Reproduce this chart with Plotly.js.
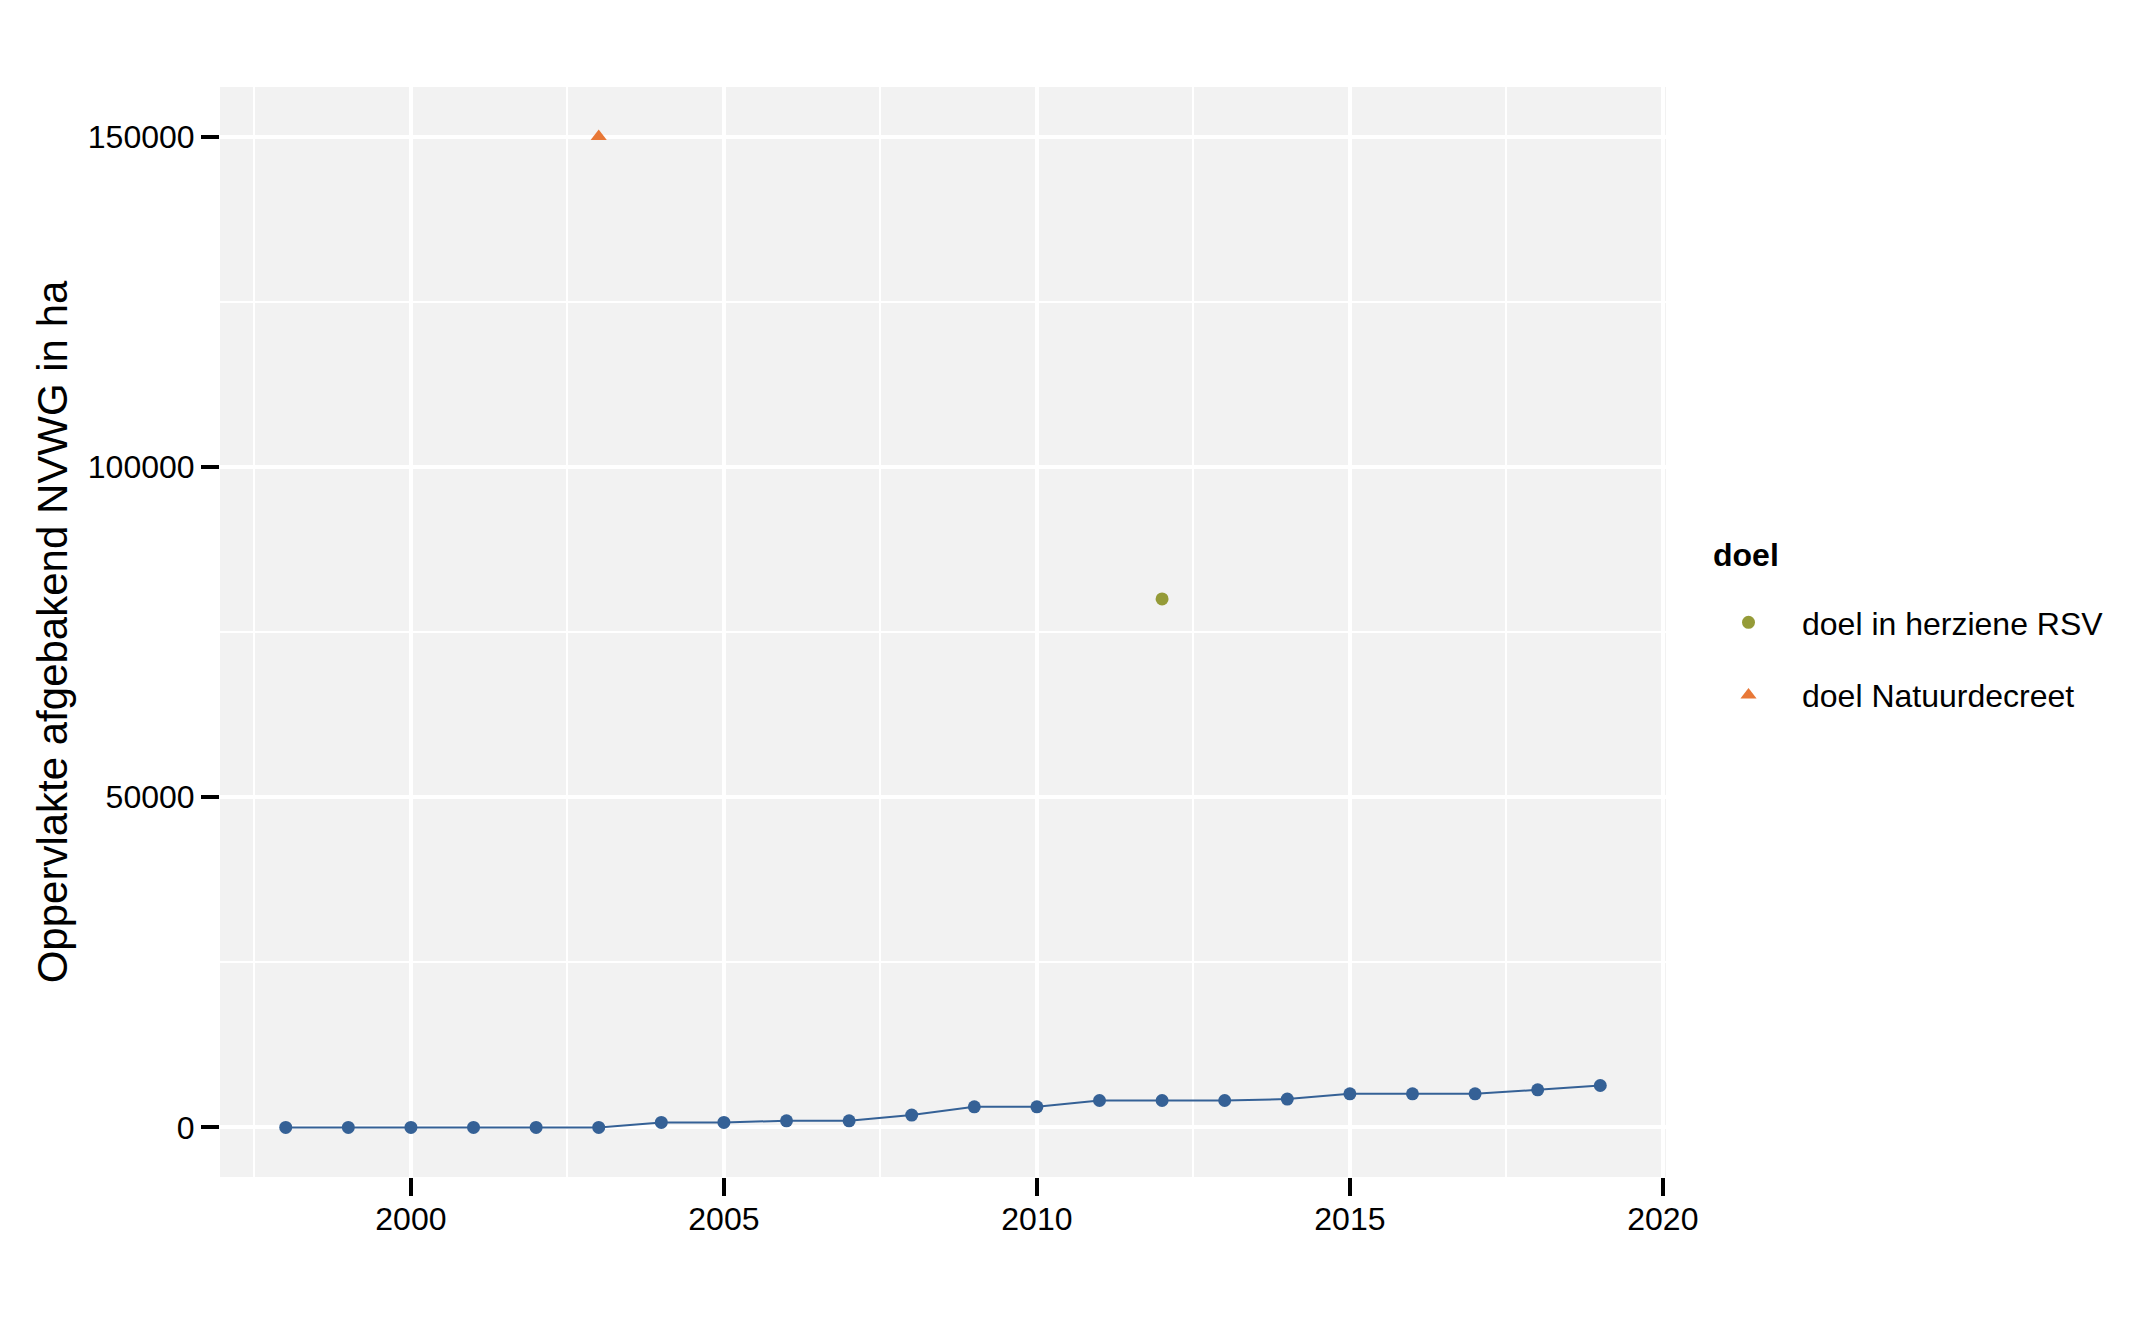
<!DOCTYPE html>
<html>
<head>
<meta charset="utf-8">
<script src="https://cdn.plot.ly/plotly-3.0.1.min.js"></script>
<style>html,body{margin:0;padding:0;background:#fff;}#chart{width:2143px;height:1321px;}</style>
</head>
<body>
<div id="chart"></div>
<script>
// Data
const years = [1998,1999,2000,2001,2002,2003,2004,2005,2006,2007,2008,2009,2010,2011,2012,2013,2014,2015,2016,2017,2018,2019];
const area  = [0,0,0,0,0,0,760,760,1010,1010,1870,3130,3130,4080,4080,4080,4290,5090,5090,5090,5700,6350];
const rsvYear = [2012];
const rsvValue = [80000];
const natYear = [2003];
const natValue = [150000];
const xTicks = [2000,2005,2010,2015,2020];
const yTicks = [0,50000,100000,150000];
const yTickText = ['0','50000','100000','150000'];
const legendTitle = 'doel';

const FONT = 'Liberation Sans, Arial, sans-serif';

const traces = [
  {
    x: years, y: area, type: 'scatter', mode: 'lines+markers',
    line: {color: '#356196', width: 2},
    marker: {color: '#356196', size: 13},
    showlegend: false, hoverinfo: 'skip'
  },
  {
    x: rsvYear, y: rsvValue, type: 'scatter', mode: 'markers',
    name: 'doel in herziene RSV', legendgroup: 'a',
    marker: {color: '#959B38', size: 13, symbol: 'circle'}
  },
  {
    x: natYear, y: natValue, type: 'scatter', mode: 'markers',
    name: 'doel Natuurdecreet', legendgroup: 'b',
    marker: {color: '#E87837', size: 14, symbol: 'triangle-up'}
  }
];

const layout = {
  width: 2143, height: 1321,
  margin: {l: 220, r: 477, t: 87, b: 144, pad: 0},
  paper_bgcolor: '#ffffff',
  plot_bgcolor: '#F2F2F2',
  font: {family: FONT, size: 32, color: '#000000'},
  xaxis: {
    range: [1996.95, 2020.05],
    tickmode: 'array', tickvals: xTicks, ticktext: xTicks.map(String),
    ticks: 'outside', ticklen: 18, tickwidth: 4, tickcolor: '#000000',
    ticklabelstandoff: -4,
    showgrid: true, gridcolor: '#ffffff', gridwidth: 4,
    minor: {tickmode: 'array', tickvals: [1997.5,2002.5,2007.5,2012.5,2017.5], showgrid: true, gridcolor: '#ffffff', gridwidth: 2, ticks: ''},
    zeroline: false, showline: false,
    tickfont: {family: FONT, size: 32, color: '#000000'}
  },
  yaxis: {
    range: [-7500, 157500],
    tickmode: 'array', tickvals: yTicks, ticktext: yTickText,
    ticks: 'outside', ticklen: 18, tickwidth: 4, tickcolor: '#000000',
    showgrid: true, gridcolor: '#ffffff', gridwidth: 4,
    minor: {tickmode: 'array', tickvals: [25000,75000,125000], showgrid: true, gridcolor: '#ffffff', gridwidth: 2, ticks: ''},
    zeroline: false, showline: false,
    tickfont: {family: FONT, size: 32, color: '#000000'},
    title: {text: 'Oppervlakte afgebakend NVWG in ha', font: {family: FONT, size: 42, color: '#000000'}, standoff: 7}
  },
  showlegend: true,
  legend: {
    xref: 'container', yref: 'container',
    x: 1695/2143, y: 1 - 595/1321, xanchor: 'left', yanchor: 'top',
    bgcolor: 'rgba(0,0,0,0)',
    font: {family: FONT, size: 32, color: '#000000'},
    traceorder: 'grouped', tracegroupgap: 28,
    itemwidth: 97
  },
  annotations: [{
    xref: 'paper', yref: 'paper',
    x: (1711 - 220) / (2143 - 220 - 477), y: (1177 - 555) / (1177 - 87),
    xanchor: 'left', yanchor: 'middle', showarrow: false,
    text: '<b>' + legendTitle + '</b>',
    font: {family: FONT, size: 32, color: '#000000'}
  }]
};

Plotly.newPlot('chart', traces, layout, {displayModeBar: false, staticPlot: true});
</script>
</body>
</html>
